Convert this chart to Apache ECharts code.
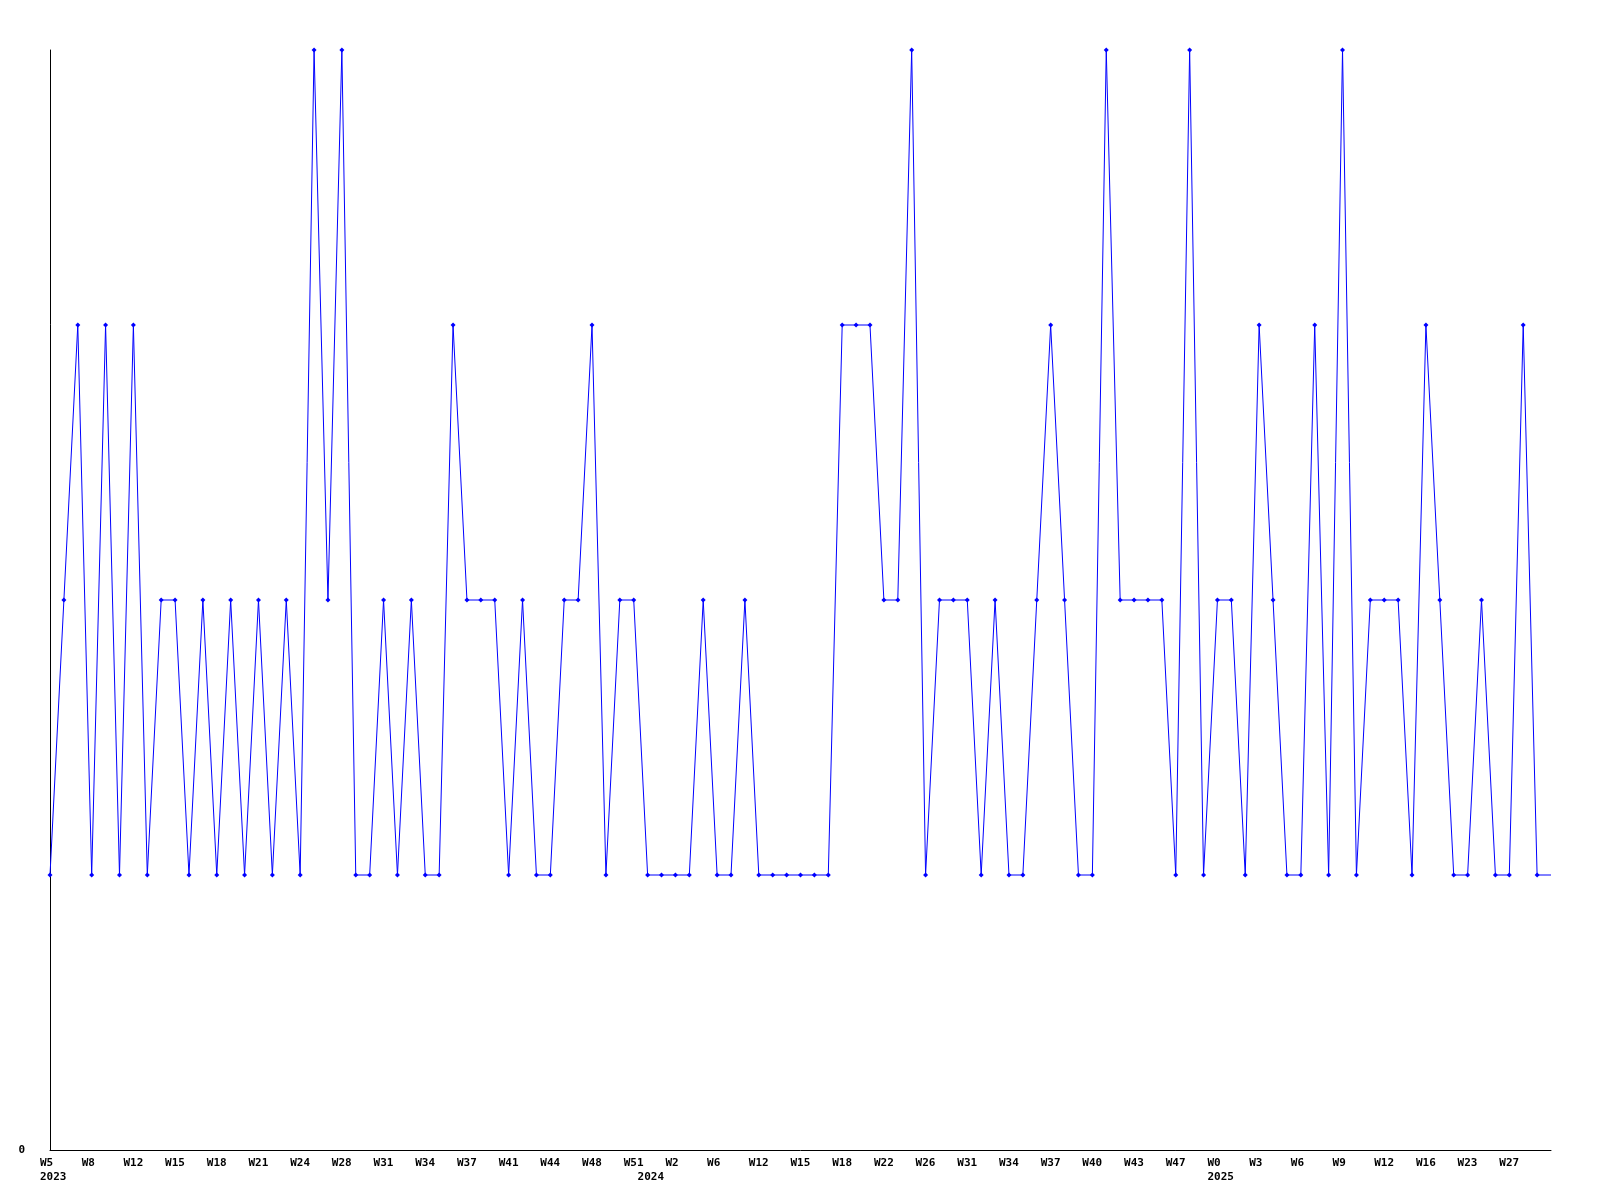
<!DOCTYPE html>
<html>
<head>
<meta charset="utf-8">
<script src="https://cdn.jsdelivr.net/npm/echarts@6/dist/echarts.min.js"></script>
<style>
html,body{margin:0;padding:0;background:#fff;}
#chart{width:1600px;height:1200px;}
</style>
</head>
<body>
<div id="chart"></div>
<script>
// Category (week) names, one per point
const weeks = [
  'W5','W6','W7','W8','W10','W11','W12','W13','W14','W15','W16','W17','W18','W19','W20','W21','W22','W23','W24','W25','W27','W28','W29','W30','W31','W32','W33','W34','W35','W36','W37','W38','W40','W41','W42','W43','W44','W45','W47','W48','W49','W50','W51',
  'W0','W1','W2','W3','W5','W6','W8','W10','W12','W13','W14','W15','W16','W17','W18','W19','W21','W22','W24','W25','W26','W28','W30','W31','W32','W33','W34','W35','W36','W37','W38','W39','W40','W41','W42','W43','W45','W46','W47','W48','W50',
  'W0','W1','W2','W3','W4','W5','W6','W7','W8','W9','W10','W11','W12','W14','W15','W16','W18','W20','W23','W24','W26','W27','W28','W29','W30'
];
// Year labels and the category index where each year starts
const yearLabels = ['2023','2024','2025'];
const yearIndex = [0, 43, 84];

// Series values
const values = [
  1,2,3,1,3,1,3,1,2,2,1,2,1,2,1,2,1,2,1,4,2,4,1,1,2,1,2,1,1,3,
  2,2,2,1,2,1,1,2,2,3,1,2,2,1,1,1,1,2,1,1,2,1,1,1,1,1,1,3,3,3,
  2,2,4,1,2,2,2,1,2,1,1,2,3,2,1,1,4,2,2,2,2,1,4,1,2,2,1,3,2,1,
  1,3,1,4,1,2,2,2,1,3,2,1,1,2,1,1,3,1,1
];
const yTickLabels = ['0'];

const lastIdx = values.length - 1;
const seriesData = values.map((v, i) => i === lastIdx ? {value: v, symbol: 'none'} : v);

const font = '"DejaVu Sans Mono", "Liberation Mono", monospace';

const chart = echarts.init(document.getElementById('chart'), null, {renderer: 'canvas'});
chart.setOption({
  animation: false,
  backgroundColor: '#ffffff',
  grid: [
    {left: 50, top: 50, width: 1501, height: 1100, containLabel: false},
    {left: 40, top: 50, width: 1501, height: 1100, containLabel: false}
  ],
  xAxis: [
    {
      type: 'category', gridIndex: 0, data: weeks, boundaryGap: false,
      axisLine: {show: true, lineStyle: {color: '#000', width: 1}},
      axisTick: {show: false}, axisLabel: {show: false}, splitLine: {show: false}
    },
    {
      type: 'category', gridIndex: 1, data: weeks, boundaryGap: false,
      axisLine: {show: false}, axisTick: {show: false}, splitLine: {show: false},
      axisLabel: {
        show: true,
        interval: (i) => (i % 3 === 0 && i < lastIdx) || yearIndex.indexOf(i) >= 0,
        align: 'left',
        verticalAlign: 'top',
        margin: 6,
        color: '#000',
        fontFamily: font,
        fontWeight: 'bold',
        fontSize: 11,
        lineHeight: 14,
        formatter: (val, i) => {
          const y = yearIndex.indexOf(i);
          const top = (i % 3 === 0) ? val : ' ';
          return y >= 0 ? top + '\n' + yearLabels[y] : top;
        }
      }
    }
  ],
  yAxis: [
    {
      type: 'value', gridIndex: 0, min: 0, max: 4, interval: 4,
      axisLine: {show: true, lineStyle: {color: '#000', width: 1}},
      axisTick: {show: false}, splitLine: {show: false},
      axisLabel: {
        show: true, color: '#000', fontFamily: font, fontWeight: 'bold', fontSize: 11,
        margin: 25, align: 'right',
        formatter: (v) => v === 0 ? yTickLabels[0] : ''
      }
    },
    {
      type: 'value', gridIndex: 1, min: 0, max: 4, show: false
    }
  ],
  series: [{
    type: 'line',
    xAxisIndex: 0, yAxisIndex: 0,
    data: seriesData,
    showAllSymbol: true,
    symbol: 'diamond',
    symbolSize: 5,
    lineStyle: {color: '#0000ff', width: 1},
    itemStyle: {color: '#0000ff'},
    emphasis: {disabled: true}
  }]
});
</script>
</body>
</html>
